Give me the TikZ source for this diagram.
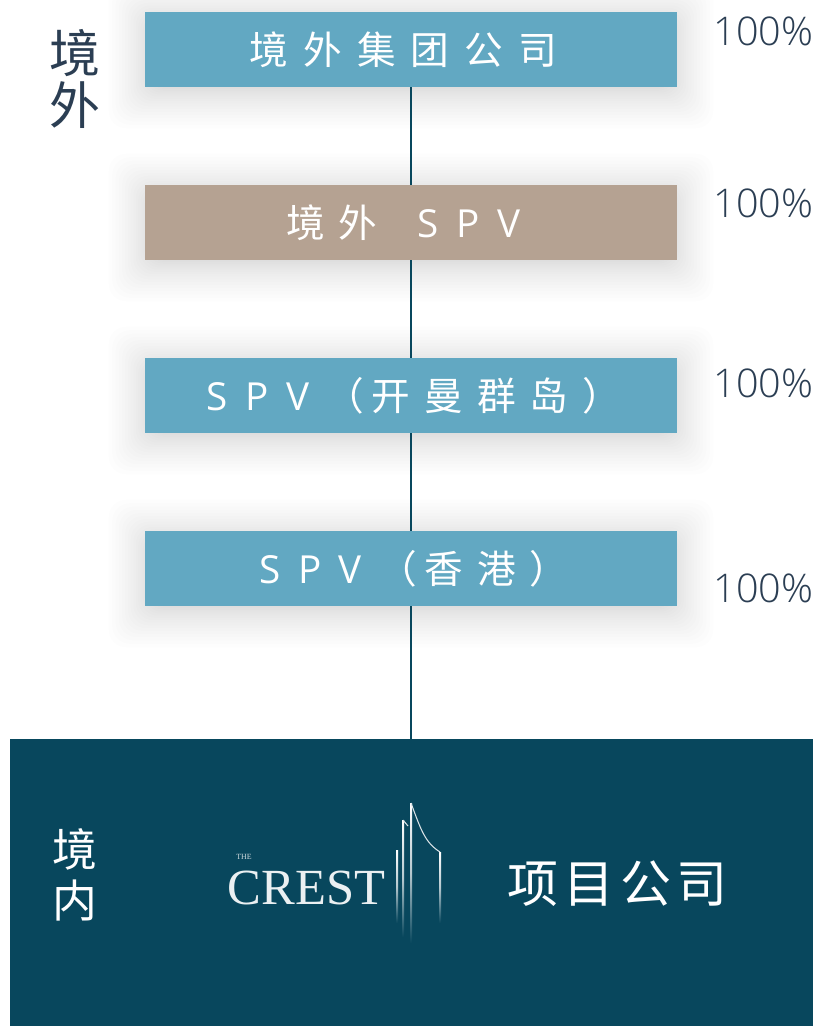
\documentclass[tikz,border=0pt]{standalone}
\usepackage{fontspec}
\setmainfont{Open Sans}
\newfontfamily\cjk{Noto Sans CJK SC}
\newfontfamily\pctfont{Open Sans Light}
\usetikzlibrary{positioning}
\definecolor{tealbox}{HTML}{62A8C2}
\definecolor{tanbox}{HTML}{B5A292}
\definecolor{navybox}{HTML}{08475D}
\definecolor{pcttext}{HTML}{2B3E53}
\newcommand{\boxshadow}[4]{% x1 y1 x2 y2
  \foreach \d in {1,...,28}{
    \pgfmathsetmacro{\spread}{1.05*(1-\d/28)*(1-\d/28)-0.25}
    \fill[black, opacity=0.0085, rounded corners=10pt]
      ({#1-\spread},{#2-0.1-\spread}) rectangle ({#3+\spread},{#4-0.1+\spread});
  }
}
\newcommand{\spv}{{\rmfamily S\hspace{0.45em}P\hspace{0.45em}V}}
\newcommand{\tower}[3]{% x, top, bottom
  \shade[top color=white, bottom color=navybox, middle color=white!70!navybox]
    ({#1-0.02},#2) rectangle ({#1+0.02},#3);
}
\begin{document}
\begin{tikzpicture}[
    entity/.style={rectangle, text=white, minimum width=10.64cm, minimum height=1.5cm, inner sep=0pt, font=\cjk\fontsize{22}{26}\selectfont},
    pct/.style={text=pcttext, font=\pctfont\fontsize{22.5}{26}\selectfont, inner sep=0pt},
    side/.style={font=\cjk\fontsize{29}{33}\selectfont, align=center, inner sep=0pt},
    link/.style={draw=navybox, line width=0.6pt}
]
\useasboundingbox (0,0) rectangle (16.42,-20.52);

% Shadows
\boxshadow{2.9}{-1.74}{13.54}{-0.24}
\boxshadow{2.9}{-5.20}{13.54}{-3.70}
\boxshadow{2.9}{-8.66}{13.54}{-7.16}
\boxshadow{2.9}{-12.12}{13.54}{-10.62}

% Entities
\node[entity, fill=tealbox] (group) at (8.22,-0.99) {境\hspace{0.39em}外\hspace{0.39em}集\hspace{0.39em}团\hspace{0.39em}公\hspace{0.39em}司\hspace{0.4em}\null};
\node[entity, fill=tanbox] (offspv) at (8.22,-4.45) {境\hspace{0.36em}外\hspace{1.05em}\spv\hspace{0.41em}\null};
\node[entity, fill=tealbox] (cayman) at (8.22,-7.91) {\hspace{0.15em}\spv\hspace{0.42em}（\hspace{0.2em}开\hspace{0.36em}曼\hspace{0.36em}群\hspace{0.36em}岛\hspace{0.36em}）};
\node[entity, fill=tealbox] (hk) at (8.22,-11.37) {\hspace{0.15em}\spv\hspace{0.42em}（\hspace{0.2em}香\hspace{0.36em}港\hspace{0.36em}）};
\fill[navybox] (0.2,-14.78) rectangle (16.26,-20.52);
\coordinate (project) at (8.22,-14.78);

% Connections
\draw[link] (group.south -| project) -- (offspv.north -| project);
\draw[link] (offspv.south -| project) -- (cayman.north -| project);
\draw[link] (cayman.south -| project) -- (hk.north -| project);
\draw[link] (hk.south -| project) -- (project);

% Percentages
\node[pct] (pcta) at (15.27,-0.62) {100\%};
\node[pct] (pctb) at (15.27,-4.06) {100\%};
\node[pct] (pctc) at (15.27,-7.66) {100\%};
\node[pct] (pctd) at (15.27,-11.76) {100\%};

% Labels
\node[side, text=pcttext] (abroad) at (1.5,-1.58) {境\\[-3pt]外};
\node[side, text=white, font=\cjk\fontsize{25.5}{30}\selectfont] (home) at (1.5,-17.5) {境\\[-1pt]内};
\node[text=white, inner sep=0pt, font=\cjk\fontsize{29}{34}\selectfont] (company) at (12.35,-17.68) {项\hspace{0.1em}目\hspace{0.1em}公\hspace{0.1em}司};

% Logo
\node[text=white!92!navybox, inner sep=0pt, font=\fontspec{Liberation Serif}\fontsize{28.8}{32}\selectfont] (crest) at (6.13,-17.75) {CREST};
\node[text=white!80!navybox, inner sep=0pt, font=\fontspec{Liberation Serif}\fontsize{4.5}{5}\selectfont, anchor=west] (the) at (4.72,-17.14) {THE};
\tower{7.94}{-17.0}{-18.46}
\tower{8.06}{-16.4}{-18.74}
\tower{8.22}{-16.06}{-18.86}
\tower{8.8}{-17.04}{-18.46}
\draw[white!85!navybox, line width=0.6pt] (8.06,-16.4) -- (8.16,-16.52);
\draw[white!85!navybox, line width=0.6pt] (8.22,-16.06) .. controls (8.42,-16.6) and (8.5,-16.85) .. (8.8,-17.04);
\end{tikzpicture}
\end{document}
